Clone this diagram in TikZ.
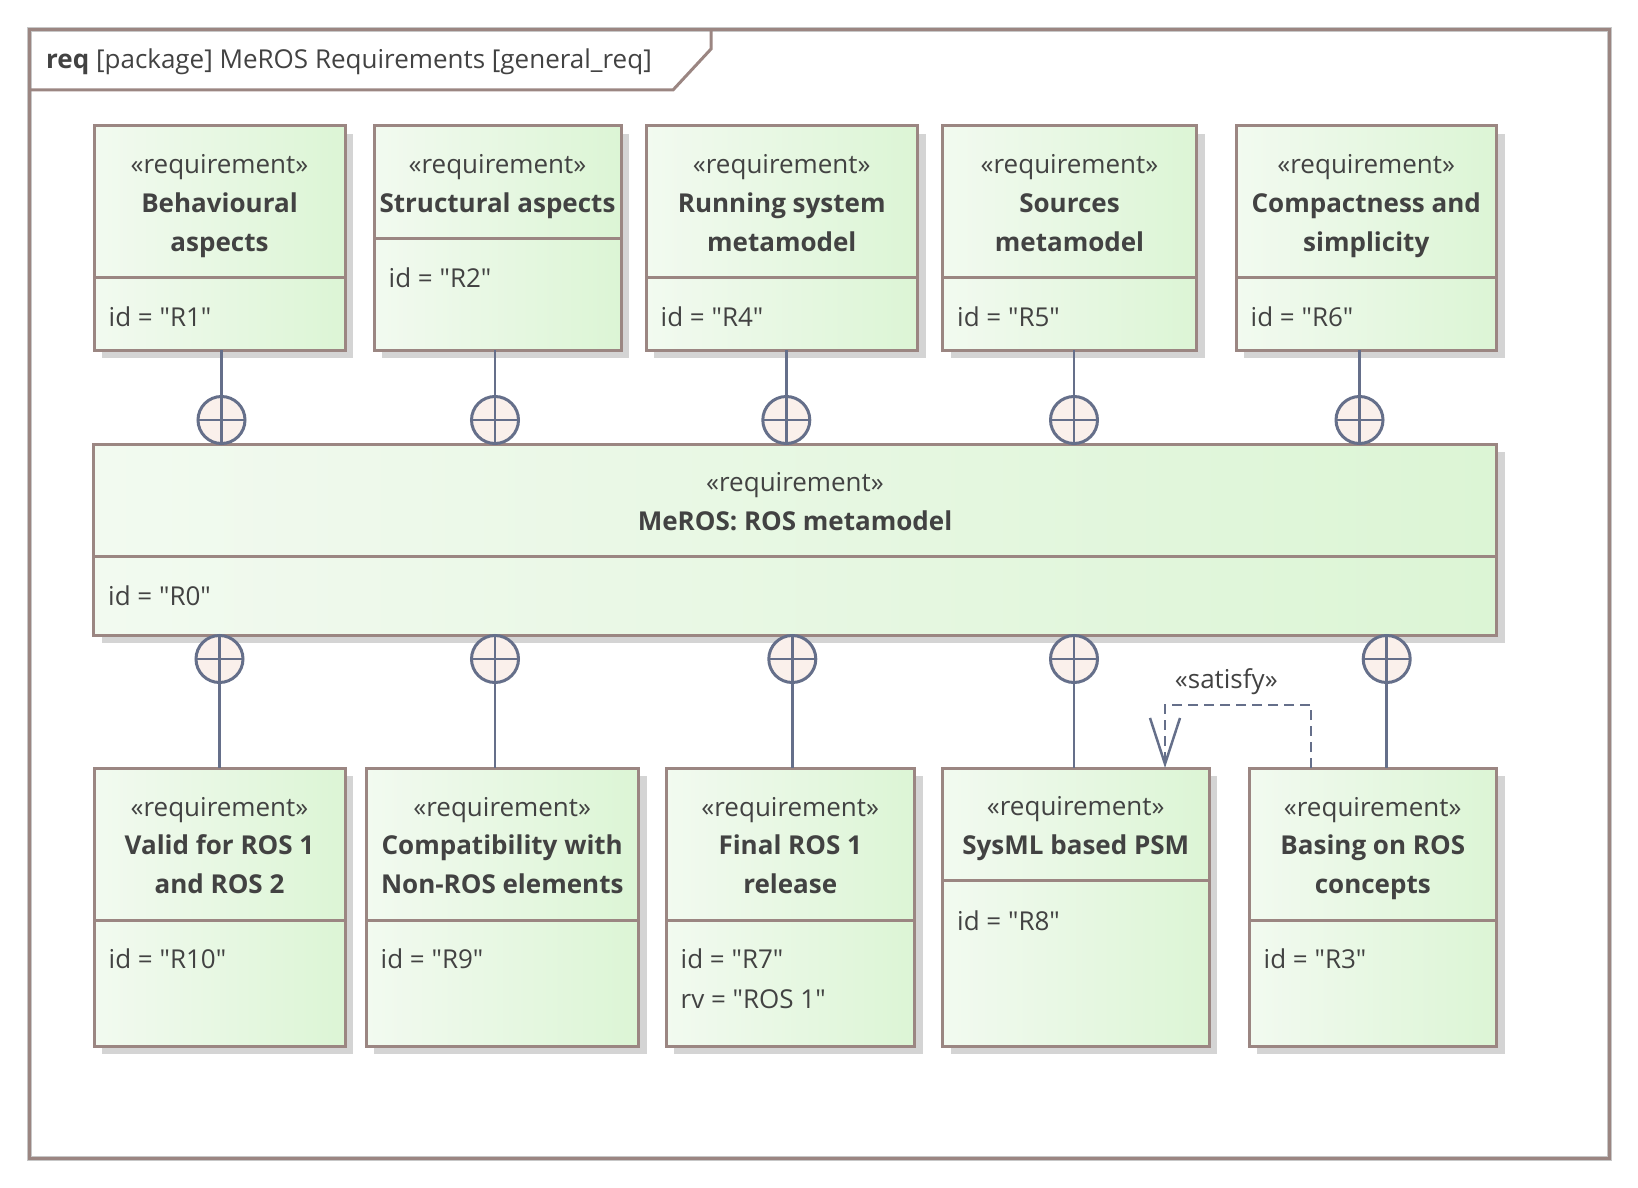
\documentclass[tikz,border=0pt]{standalone}
\usepackage{fontspec}
\setmainfont{Open Sans}[Ligatures=TeXOff]
\usetikzlibrary{shadows,arrows.meta}
\definecolor{reqline}{RGB}{155,134,130}
\definecolor{reqleft}{RGB}{242,250,240}
\definecolor{reqright}{RGB}{220,245,213}
\definecolor{reqtext}{RGB}{66,66,66}
\definecolor{linkcol}{RGB}{101,111,138}
\definecolor{pluscol}{RGB}{250,240,235}
\newcommand{\rs}{\rule[-8.2pt]{0pt}{38.2pt}}
\tikzstyle{reqbox} = [draw=reqline, line width=3pt, left color=reqleft, right color=reqright, anchor=north west, outer sep=0pt, inner sep=0pt, align=center, text=reqtext, drop shadow={shadow xshift=8pt, shadow yshift=-8pt, fill=black!17, opacity=1}]
\tikzstyle{attr} = [anchor=base west, inner sep=0pt, text=reqtext]
\tikzstyle{contain} = [circle, draw=linkcol, line width=3pt, fill=pluscol, minimum size=47pt, inner sep=0pt, path picture={\draw[linkcol, line width=2.5pt] (path picture bounding box.north) -- (path picture bounding box.south) (path picture bounding box.west) -- (path picture bounding box.east);}]
\tikzstyle{link} = [draw=linkcol, line width=2.5pt]
\tikzstyle{satisfy} = [link, dash pattern=on 10pt off 6pt, -{Straight Barb[length=46pt, width=30pt]}]
\tikzstyle{frame} = [draw=reqline, line width=3pt, preaction={draw=black!22, line width=5pt}]

\begin{document}
\begin{tikzpicture}[x=1pt, y=-1pt]
        \fontsize{26}{38.7}\selectfont
        \useasboundingbox (0,0) rectangle (1638,1188);
        \draw[frame] (29,30) rectangle (1609,1158);
        \draw[reqline, line width=3pt] (29,90) -- (673,90) -- (711,49) -- (711,30);
        \node[attr] (title) at (46,68.5) {\textbf{req} [package] MeROS Requirements [general\_req]};

        \node[reqbox, minimum width=251pt, minimum height=151pt] (r1) at (94,126) {\rs«requirement»\\\rs\textbf{Behavioural}\\\rs\textbf{aspects}};
        \node[reqbox, minimum width=251pt, minimum height=73pt] (r1b) at (94,277) {};
        \node[attr] (r1id) at (108.5,326.5) {id = "R1"};
        \node[reqbox, minimum width=247pt, minimum height=112pt] (r2) at (374,126) {\rs«requirement»\\\rs\textbf{Structural aspects}};
        \node[reqbox, minimum width=247pt, minimum height=112pt] (r2b) at (374,238) {};
        \node[attr] (r2id) at (388.5,287.5) {id = "R2"};
        \node[reqbox, minimum width=271.5pt, minimum height=151pt] (r4) at (646,126) {\rs«requirement»\\\rs\textbf{Running system}\\\rs\textbf{metamodel}};
        \node[reqbox, minimum width=271.5pt, minimum height=73pt] (r4b) at (646,277) {};
        \node[attr] (r4id) at (660.5,326.5) {id = "R4"};
        \node[reqbox, minimum width=254pt, minimum height=151pt] (r5) at (942.5,126) {\rs«requirement»\\\rs\textbf{Sources}\\\rs\textbf{metamodel}};
        \node[reqbox, minimum width=254pt, minimum height=73pt] (r5b) at (942.5,277) {};
        \node[attr] (r5id) at (957,326.5) {id = "R5"};
        \node[reqbox, minimum width=260.5pt, minimum height=151pt] (r6) at (1236,126) {\rs«requirement»\\\rs\textbf{Compactness and}\\\rs\textbf{simplicity}};
        \node[reqbox, minimum width=260.5pt, minimum height=73pt] (r6b) at (1236,277) {};
        \node[attr] (r6id) at (1250.5,326.5) {id = "R6"};

        \node[reqbox, minimum width=1403pt, minimum height=112pt] (r0) at (93.5,444) {\rs«requirement»\\\rs\textbf{MeROS: ROS metamodel}};
        \node[reqbox, minimum width=1403pt, minimum height=79pt] (r0b) at (93.5,556) {};
        \node[attr] (r0id) at (108,605) {id = "R0"};

        \node[reqbox, minimum width=251pt, minimum height=152pt] (r10) at (94,768) {\rs«requirement»\\\rs\textbf{Valid for ROS 1}\\\rs\textbf{and ROS 2}};
        \node[reqbox, minimum width=251pt, minimum height=126pt] (r10b) at (94,920) {};
        \node[attr] (r10id) at (108.5,968.5) {id = "R10"};
        \node[reqbox, minimum width=272.5pt, minimum height=152pt] (r9) at (366,768) {\rs«requirement»\\\rs\textbf{Compatibility with}\\\rs\textbf{Non-ROS elements}};
        \node[reqbox, minimum width=272.5pt, minimum height=126pt] (r9b) at (366,920) {};
        \node[attr] (r9id) at (380.5,968.5) {id = "R9"};
        \node[reqbox, minimum width=248.5pt, minimum height=152pt] (r7) at (666,768) {\rs«requirement»\\\rs\textbf{Final ROS 1}\\\rs\textbf{release}};
        \node[reqbox, minimum width=248.5pt, minimum height=126pt] (r7b) at (666,920) {};
        \node[attr] (r7id) at (680.5,968.5) {id = "R7"};
        \node[attr] (r7rv) at (680.5,1008) {rv = "ROS 1"};
        \node[reqbox, minimum width=266.5pt, minimum height=112pt] (r8) at (942.5,768) {\rs«requirement»\\\rs\textbf{SysML based PSM}};
        \node[reqbox, minimum width=266.5pt, minimum height=166pt] (r8b) at (942.5,880) {};
        \node[attr] (r8id) at (957,930) {id = "R8"};
        \node[reqbox, minimum width=247.5pt, minimum height=152pt] (r3) at (1249,768) {\rs«requirement»\\\rs\textbf{Basing on ROS}\\\rs\textbf{concepts}};
        \node[reqbox, minimum width=247.5pt, minimum height=126pt] (r3b) at (1249,920) {};
        \node[attr] (r3id) at (1263.5,968.5) {id = "R3"};

        \node[contain] (c1) at (221.5,420) {};
        \node[contain] (c2) at (495,420) {};
        \node[contain] (c4) at (786.3,420) {};
        \node[contain] (c5) at (1074,420) {};
        \node[contain] (c6) at (1359.5,420) {};
        \node[contain] (c10) at (219.5,659) {};
        \node[contain] (c9) at (495,659) {};
        \node[contain] (c7) at (792.3,659) {};
        \node[contain] (c8) at (1074,659) {};
        \node[contain] (c3) at (1386.7,659) {};

        \draw[link] (c1) -- (c1 |- r1b.south);
        \draw[link] (c2) -- (c2 |- r2b.south);
        \draw[link] (c4) -- (c4 |- r4b.south);
        \draw[link] (c5) -- (c5 |- r5b.south);
        \draw[link] (c6) -- (c6 |- r6b.south);
        \draw[link] (c10) -- (c10 |- r10.north);
        \draw[link] (c9) -- (c9 |- r9.north);
        \draw[link] (c7) -- (c7 |- r7.north);
        \draw[link] (c8) -- (c8 |- r8.north);
        \draw[link] (c3) -- (c3 |- r3.north);
        \draw[satisfy] ([xshift=62pt]r3.north west) -- ++(0,-63) -| ([xshift=222.5pt]r8.north west) node[pos=0.29, above=0.5pt, text=reqtext] (sat) {«satisfy»};
\end{tikzpicture}
\end{document}
